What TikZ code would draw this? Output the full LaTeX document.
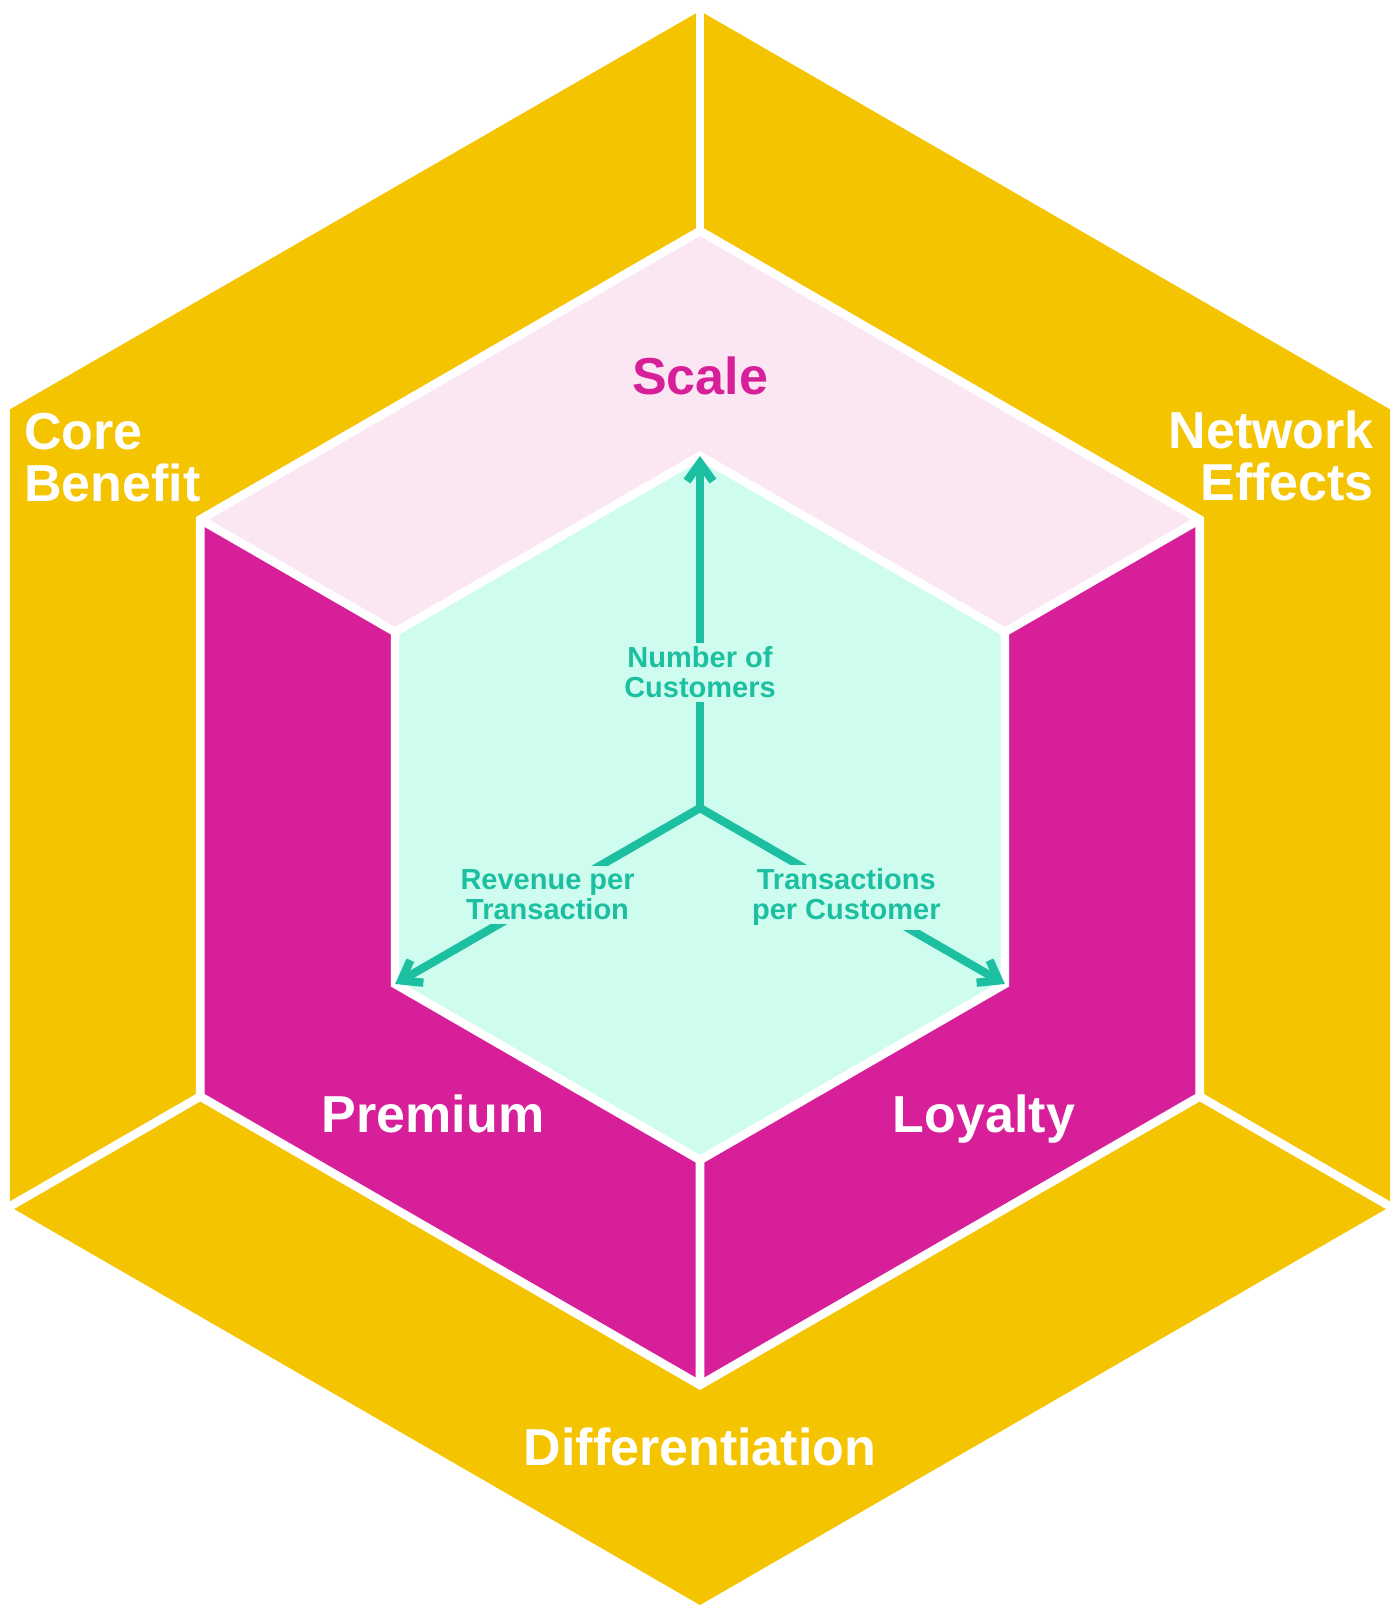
\documentclass[tikz,border=0pt]{standalone}
\usepackage{fontspec}
\setmainfont{Liberation Sans}
\usetikzlibrary{arrows.meta}

\definecolor{moatyellow}{HTML}{F5C400}
\definecolor{wallmagenta}{HTML}{D81F9A}
\definecolor{scalepink}{HTML}{FBE7F3}
\definecolor{coremint}{HTML}{CEFDF0}
\definecolor{arrowteal}{HTML}{1CBFA0}

\begin{document}
\begin{tikzpicture}[x=1pt,y=1pt,>={Straight Barb[length=18pt,width=26pt]},
  gap/.style={draw=white,line width=8.6pt},
  axis/.style={draw=arrowteal,line width=8.3pt},
  bigtext/.style={text=white,inner sep=0pt,font=\bfseries\fontsize{52}{52}\selectfont},
  axislabel/.style={fill=coremint,text=arrowteal,align=center,inner sep=4pt,font=\bfseries\fontsize{29}{30}\selectfont}]

\useasboundingbox (-700,-807) rectangle (700,808);

\foreach \ang/\corner in {90/t,30/tr,-30/br,-90/b,-150/bl,150/tl}{
  \coordinate (O\corner) at (\ang:797);
  \coordinate (M\corner) at (\ang:577);
  \coordinate (I\corner) at (\ang:352);
}
\coordinate (C) at (0,0);

\fill[moatyellow] (Ot) -- (Otr) -- (Obr) -- (Ob) -- (Obl) -- (Otl) -- cycle;
\fill[scalepink] (Mt) -- (Mtr) -- (Itr) -- (It) -- (Itl) -- (Mtl) -- cycle;
\fill[wallmagenta] (Mtl) -- (Itl) -- (Ibl) -- (Ib) -- (Mb) -- (Mbl) -- cycle;
\fill[wallmagenta] (Mtr) -- (Mbr) -- (Mb) -- (Ib) -- (Ibr) -- (Itr) -- cycle;
\fill[coremint] (It) -- (Itr) -- (Ibr) -- (Ib) -- (Ibl) -- (Itl) -- cycle;

\path[gap] (Mt) -- (Mtr) -- (Mbr) -- (Mb) -- (Mbl) -- (Mtl) -- cycle
  (It) -- (Itr) -- (Ibr) -- (Ib) -- (Ibl) -- (Itl) -- cycle
  (Itl) -- (Mtl) (Itr) -- (Mtr) (Ib) -- (Mb);
\path[gap,shorten >=-8pt] (Mt) -- (Ot);
\path[gap,shorten >=-8pt] (Mbl) -- (Obl);
\path[gap,shorten >=-8pt] (Mbr) -- (Obr);

\draw[axis,->] (C) -- node[pos=0.385,axislabel] (customers) {Number of\\Customers} (It);
\draw[axis,<->] (Ibl) -- node[pos=0.5,axislabel,yshift=1pt] (revenue) {Revenue per\\Transaction} (C)
  -- node[pos=0.48,axislabel,yshift=-5pt] (transactions) {Transactions\\per Customer} (Ibr);

\node[bigtext,text=wallmagenta,anchor=base] (scale) at (0,413) {Scale};
\node[bigtext,align=left,anchor=west] (core) at (-676,350) {Core\\Benefit};
\node[bigtext,align=right,anchor=east] (network) at (674,352) {Network\\Effects};
\node[bigtext,anchor=base] (premium) at (-267,-324) {Premium};
\node[bigtext,anchor=base] (loyalty) at (284,-324) {Loyalty};
\node[bigtext,anchor=base] (differentiation) at (0,-657) {Differentiation};
\end{tikzpicture}
\end{document}
